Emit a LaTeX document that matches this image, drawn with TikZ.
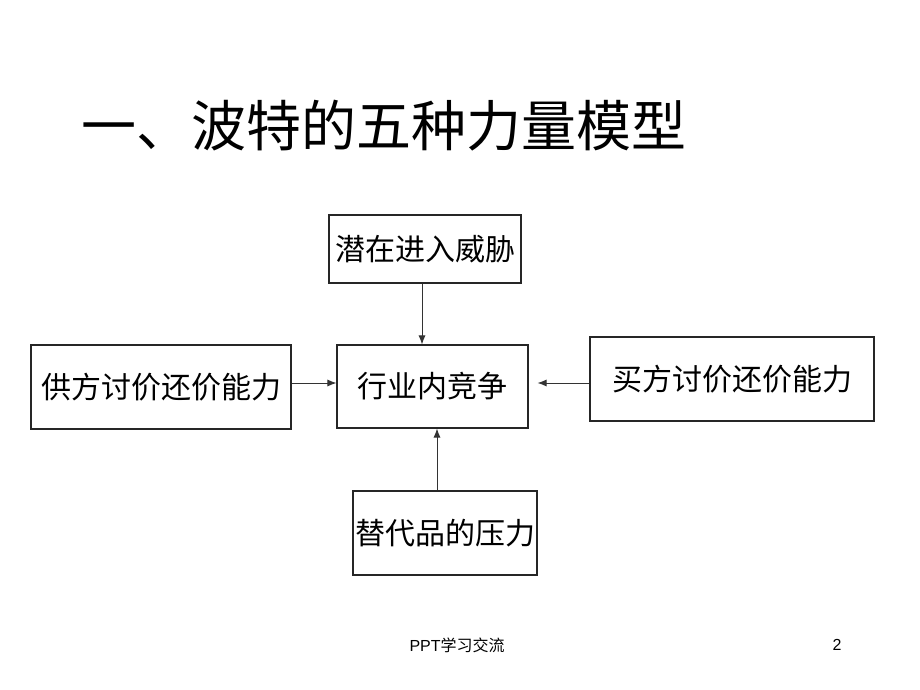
\documentclass[tikz,border=0pt]{standalone}
\usepackage{fontspec}
\setmainfont{Liberation Sans}
\newfontfamily\cjk{Noto Sans CJK SC}
\usetikzlibrary{arrows.meta,calc}
\begin{document}
\begin{tikzpicture}[x=1pt,y=-1pt,
  forcebox/.style={draw=black!85,line width=1.1pt,rectangle,inner sep=0pt,font=\cjk\fontsize{30}{34}\selectfont},
  conn/.style={draw=black!80,line width=0.9pt,-{Latex[length=9pt,width=7pt]}}]
\useasboundingbox[fill=white] (0,0) rectangle (920,690);
\node[font=\cjk\fontsize{55}{60}\selectfont,anchor=west] (title) at (78,126) {一、波特的五种力量模型};
\node[forcebox,minimum width=192pt,minimum height=68pt] (top) at (425,249) {潜在进入威胁};
\node[forcebox,minimum width=191pt,minimum height=83pt] (mid) at (432.5,386.5) {行业内竞争};
\node[forcebox,minimum width=260pt,minimum height=84pt] (left) at (161,387) {供方讨价还价能力};
\node[forcebox,minimum width=284pt,minimum height=84pt] (right) at (732,379) {买方讨价还价能力};
\node[forcebox,minimum width=184pt,minimum height=84pt] (bot) at (445,533) {替代品的压力};
\draw[conn] ([xshift=-3pt]top.south) -- ([xshift=-3pt]top.south |- mid.north);
\draw[conn] ([yshift=4pt]left.east) -- ([yshift=4pt]left.east -| mid.west);
\draw[conn,shorten >=9pt] ([yshift=-4pt]right.west) -- ([yshift=-4pt]right.west -| mid.east);
\draw[conn] ([xshift=-8pt]bot.north) -- ([xshift=-8pt]bot.north |- mid.south);
\node[font=\fontsize{16}{19}\selectfont,anchor=west] (foot) at (406,645) {PPT{\cjk 学习交流}};
\node[font=\fontsize{16}{19}\selectfont] (page) at (837,645) {2};
\end{tikzpicture}
\end{document}
